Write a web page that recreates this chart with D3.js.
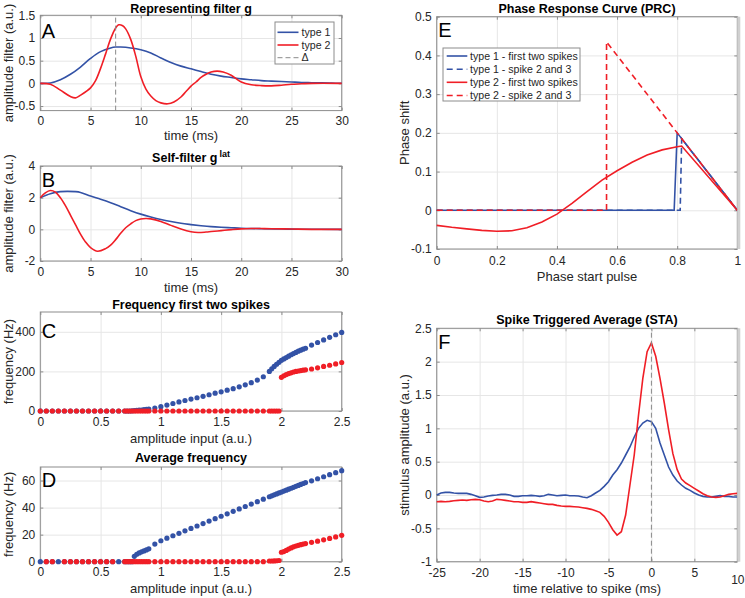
<!DOCTYPE html>
<html><head><meta charset="utf-8">
<script src="https://cdn.jsdelivr.net/npm/d3@7"></script>
<style>
html,body{margin:0;padding:0;background:#fff;}
svg{display:block;font-family:"Liberation Sans",Arial,Helvetica,sans-serif;}
</style></head>
<body>
<svg id="chart" width="745" height="598"></svg>
<script>
// ---------- DATA ----------
// Panel A: representing filter g
const tA1 = [0,1,2,3,4,5,6,7,7.5,8,9,10,11,12,13,14,15,16,17,18,19,20,21,22,23,24,25,26,27,28,29,30];
const gA1 = [0,0.01,0.08,0.2,0.36,0.55,0.7,0.78,0.8,0.8,0.78,0.74,0.67,0.56,0.46,0.38,0.32,0.26,0.2,0.16,0.13,0.1,0.08,0.06,0.05,0.04,0.03,0.02,0.015,0.01,0.005,0.003];
const tA2 = [0,1,2,3,3.5,4,5,5.5,6,6.5,7,7.5,7.8,8.2,8.5,9,9.5,10,10.5,11,11.5,12,12.7,13.3,14,14.5,15,15.5,16,16.5,17,17.6,18.2,19,20,21,22,23,24,25,26,27,30];
const gA2 = [0,-0.02,-0.15,-0.29,-0.32,-0.26,-0.1,0.06,0.33,0.65,0.98,1.22,1.29,1.27,1.2,0.97,0.6,0.15,-0.12,-0.28,-0.38,-0.43,-0.45,-0.41,-0.3,-0.18,-0.06,0.03,0.13,0.2,0.25,0.27,0.25,0.18,0.03,-0.03,-0.05,-0.055,-0.04,-0.02,-0.01,0,0];
const deltaA = 7.5;
// Panel B: self-filter g^lat
const tB1 = [0,1,2,2.7,3.5,4,5,6,7,8,9,10,11,12,13,14,15,16,17,18,19,20,22,24,26,30];
const gB1 = [2.0,2.25,2.38,2.4,2.38,2.33,2.1,1.9,1.68,1.43,1.18,0.96,0.78,0.62,0.49,0.38,0.3,0.23,0.17,0.13,0.1,0.07,0.04,0.02,0.01,0];
const tB2 = [0,0.5,1,1.5,2,2.5,3,3.5,4,4.5,5,5.7,6.5,7,7.5,8,8.5,9,9.5,10,10.5,11,12,13,14,15,15.7,16.5,17,18,19,20,21,22,23,25,27,30];
const gB2 = [2.0,2.3,2.45,2.35,2.0,1.5,0.9,0.3,-0.3,-0.8,-1.15,-1.38,-1.22,-1.0,-0.65,-0.25,0.1,0.35,0.55,0.65,0.68,0.66,0.5,0.25,0.02,-0.15,-0.2,-0.17,-0.14,-0.08,-0.02,0.03,0.05,0.05,0.04,0.02,0,0];
// Panels C, D: amplitude input grid
const amp = [0,0.05,0.1,0.15,0.2,0.25,0.3,0.35,0.4,0.45,0.5,0.55,0.6,0.65,
  0.7,0.72,0.74,0.76,0.78,0.8,0.82,0.84,0.86,0.88,0.9,
  0.95,1,1.05,1.1,1.15,1.2,1.25,1.3,1.35,1.4,1.45,1.5,1.55,1.6,1.65,1.7,1.75,1.8,1.85,
  1.9,1.92,1.94,1.96,1.98,2,2.02,2.04,2.06,2.08,2.1,2.12,2.14,2.16,2.18,2.2,
  2.25,2.3,2.35,2.4,2.45,2.5];
const freqC1 = [0,0,0,0,0,0,0,0,0,0,0,0,0,0,
  0,0,0,1,2,3,4,5,7,8,10,
  15,22,30,38,46,53,60,67,74,82,90,97,105,113,122,132,143,156,173,
  200,213,225,236,246,256,263,270,277,284,290,296,302,307,312,317,
  333,346,359,372,385,397];
const freqC2 = [0,0,0,0,0,0,0,0,0,0,0,0,0,0,
  0,0,0,0,0,0,0,0,0,0,0,
  0,0,0,0,0,0,0,0,0,0,0,0,0,0,0,0,0,0,0,
  0,0,0,0,0,170,178,184,189,193,197,200,202,204,206,208,
  212,218,225,231,238,245];
const freqD1 = [0,0,0,0,0,0,0,0,0,0,0,0,0,0,
  0,0,0,0,4,5.5,6.5,7.3,8,8.7,9.5,
  13,15.5,17.4,19.2,21,22.8,24.6,26.4,28.2,30,31.8,33.6,35.4,37.2,39,40.8,42.6,44.4,46.2,
  48,48.7,49.4,50.1,50.8,51.5,52.2,52.9,53.6,54.3,55,55.7,56.4,57.1,57.8,58.5,
  59.8,61.3,62.8,64.3,65.8,67.3];
const freqD2 = [null,0,0,null,0,0,0,0,0,0,0,0,0,null,
  0,0,0,0,0,0,0,0,0,0,0,
  0,0,0,0,0,0,0,0,0,0,0,0,0,0,0,0,0,0,0,
  0.5,0.5,0.6,0.7,0.9,7,7.5,8.3,9.3,10.2,11,11.6,12.1,12.6,13,13.4,
  14.3,15.2,16.2,17.2,18.3,19.5];
// Panel E: phase response curves
const prcX1a = [0,0.79,0.8,1],   prcY1a = [0,0,0.2,0];
const prcX1b = [0,0.81,0.815,1], prcY1b = [0,0,0.185,0];
const prcX2a = [0,0.05,0.1,0.15,0.2,0.25,0.3,0.35,0.4,0.45,0.5,0.55,0.6,0.65,0.7,0.75,0.8,0.815,1];
const prcY2a = [-0.039,-0.044,-0.048,-0.052,-0.054,-0.053,-0.045,-0.03,-0.01,0.018,0.048,0.078,0.102,0.124,0.143,0.156,0.164,0.166,0];
const prcX2b = [0,0.565,0.565,1], prcY2b = [0,0,0.435,0];
// Panel F: spike triggered average
const tF = [-25,-24.5,-24,-23.5,-23,-22.5,-22,-21.5,-21,-20.5,-20,-19.5,-19,-18.5,-18,-17.5,-17,-16.5,-16,-15.5,-15,-14.5,-14,-13.5,-13,-12.5,-12,-11.5,-11,-10.5,-10,-9.5,-9,-8.5,-8,-7.5,-7,-6.5,-6,-5.5,-5,-4.5,-4,-3.5,-3,-2.5,-2,-1.5,-1,-0.5,0,0.5,1,1.5,2,2.5,3,3.5,4,4.5,5,5.5,6,6.5,7,7.5,8,8.5,9,9.5,10];
const staF1 = [0,0.03,0.04,0.04,0.03,0.025,0.025,0.025,0.01,-0.01,-0.035,-0.03,-0.015,-0.005,0,0.01,0.01,0,-0.02,-0.02,-0.01,-0.01,-0.005,-0.01,-0.02,-0.01,0.01,0,-0.01,-0.005,0,-0.01,-0.01,-0.015,-0.03,-0.04,-0.01,0.03,0.07,0.13,0.2,0.3,0.38,0.48,0.6,0.72,0.87,1.0,1.08,1.12,1.1,1.0,0.78,0.6,0.42,0.3,0.21,0.15,0.1,0.07,0.03,0,-0.02,-0.03,-0.03,-0.02,-0.01,-0.02,-0.02,-0.03,-0.03];
const staF2 = [-0.1,-0.095,-0.1,-0.095,-0.085,-0.08,-0.075,-0.08,-0.07,-0.065,-0.07,-0.09,-0.1,-0.09,-0.065,-0.07,-0.08,-0.09,-0.1,-0.1,-0.11,-0.11,-0.1,-0.11,-0.12,-0.13,-0.14,-0.14,-0.155,-0.165,-0.17,-0.17,-0.175,-0.18,-0.19,-0.2,-0.215,-0.235,-0.26,-0.32,-0.41,-0.52,-0.6,-0.55,-0.3,0.15,0.6,1.2,1.75,2.15,2.28,2.08,1.75,1.38,0.98,0.62,0.38,0.24,0.18,0.14,0.1,0.06,0.02,-0.01,-0.03,-0.035,-0.03,-0.01,0.01,0.02,0.025];
// Tick values
const xtAB = [0,5,10,15,20,25,30];
const ytA = [-0.5,0,0.5,1,1.5];
const ytB = [-2,0,2,4];
const xtCD = [0,0.5,1,1.5,2,2.5];
const ytC = [0,200,400];
const ytD = [0,20,40,60];
const xtE = [0,0.2,0.4,0.6,0.8,1];
const ytE = [-0.1,0,0.1,0.2,0.3,0.4,0.5];
const xtF = [-25,-20,-15,-10,-5,0,5,10];
const ytF = [-1,-0.5,0,0.5,1,1.5,2,2.5];

// ---------- STYLE ----------
const BLUE = "#3352a6", RED = "#f01e26", GRID = "#e6e6e6", BOX = "#8c8c8c", TXT = "#262626";
const tickFS = 12, labFS = 13, titFS = 12.5, legFS = 10.6;
const svg = d3.select("#chart");
svg.append("rect").attr("width",745).attr("height",598).attr("fill","#fff");

function panel(p){
  const x = d3.scaleLinear().domain(p.xd).range([p.l,p.r]);
  const y = d3.scaleLinear().domain(p.yd).range([p.b,p.t]);
  const g = svg.append("g");
  const h = p.b-p.t, w = p.r-p.l;
  // grid
  g.append("g").attr("transform",`translate(0,${p.b})`)
    .call(d3.axisBottom(x).tickValues(p.xt).tickSize(-h).tickFormat(""))
    .call(s=>{s.select(".domain").remove(); s.selectAll("line").attr("stroke",GRID);});
  g.append("g").attr("transform",`translate(${p.l},0)`)
    .call(d3.axisLeft(y).tickValues(p.yt).tickSize(-w).tickFormat(""))
    .call(s=>{s.select(".domain").remove(); s.selectAll("line").attr("stroke",GRID);});
  // box
  g.append("rect").attr("x",p.l).attr("y",p.t).attr("width",w).attr("height",h)
    .attr("fill","none").attr("stroke",BOX).attr("stroke-width",1);
  const fmt = d => String(d);
  const styleAx = s => {
    s.select(".domain").remove();
    s.selectAll("line").attr("stroke",BOX);
    s.selectAll("text").attr("fill",TXT).attr("font-size",tickFS).attr("font-family","Liberation Sans, Arial, sans-serif");
  };
  const xa = g.append("g").attr("transform",`translate(0,${p.b})`)
    .call(d3.axisBottom(x).tickValues(p.xt).tickSizeInner(-3).tickSizeOuter(0).tickPadding(p.xpad||6).tickFormat(fmt)).call(styleAx);
  g.append("g").attr("transform",`translate(0,${p.t})`)
    .call(d3.axisTop(x).tickValues(p.xt).tickSizeInner(-3).tickSizeOuter(0).tickFormat("")).call(styleAx);
  g.append("g").attr("transform",`translate(${p.l},0)`)
    .call(d3.axisLeft(y).tickValues(p.yt).tickSizeInner(-3).tickSizeOuter(0).tickPadding(5).tickFormat(fmt)).call(styleAx);
  g.append("g").attr("transform",`translate(${p.r},0)`)
    .call(d3.axisRight(y).tickValues(p.yt).tickSizeInner(-3).tickSizeOuter(0).tickFormat("")).call(styleAx);
  // title
  if(p.title){
    const tt = svg.append("text").attr("x",(p.l+p.r)/2).attr("y",p.titleY).attr("text-anchor","middle")
      .attr("font-size",titFS).attr("font-weight","bold").attr("fill","#000").text(p.title);
    if(p.sup) tt.append("tspan").attr("dy",-5).attr("dx",2).attr("font-size",9).text(p.sup);
  }
  if(p.xlabel) svg.append("text").attr("x",(p.l+p.r)/2).attr("y",p.xlabY).attr("text-anchor","middle")
      .attr("font-size",labFS).attr("fill",TXT).text(p.xlabel);
  if(p.ylabel) svg.append("text").attr("transform",`translate(${p.ylabX},${(p.t+p.b)/2}) rotate(-90)`)
      .attr("text-anchor","middle").attr("font-size",labFS).attr("fill",TXT).text(p.ylabel);
  if(p.letter) svg.append("text").attr("x",p.l+1.5).attr("y",p.letterY).attr("font-size",20).attr("fill","#000").text(p.letter);
  return {x,y,g,xa};
}

function line(P, xs, ys, color, dash, curve){
  const pts = xs.map((v,i)=>[v,ys[i]]);
  P.g.append("path").datum(pts)
    .attr("d", d3.line().x(d=>P.x(d[0])).y(d=>P.y(d[1])).curve(curve||d3.curveLinear))
    .attr("fill","none").attr("stroke",color).attr("stroke-width",1.6)
    .attr("stroke-dasharray",dash||null);
}
function dots(P, xs, ys, color){
  const pts = xs.map((v,i)=>[v,ys[i]]).filter(d=>d[1]!==null);
  P.g.append("g").selectAll("circle").data(pts).join("circle")
    .attr("cx",d=>P.x(d[0])).attr("cy",d=>P.y(d[1])).attr("r",2.6).attr("fill",color);
}
function vdash(P, xv){
  P.g.append("line").attr("x1",P.x(xv)).attr("x2",P.x(xv))
    .attr("y1",P.y.range()[0]).attr("y2",P.y.range()[1])
    .attr("stroke","#8a8a8a").attr("stroke-width",1).attr("stroke-dasharray","5,3");
}

// ---------- PANEL A ----------
const A = panel({l:40.3,r:341.7,t:15.3,b:110.6,xd:[0,30],yd:[-0.6,1.5],xt:xtAB,yt:ytA,
  title:"Representing filter g",titleY:12.5,xlabel:"time (ms)",xlabY:139.5,ylabel:"amplitude filter (a.u.)",ylabX:13,letter:"A",letterY:37.5});
const smooth = d3.curveCatmullRom.alpha(0.5);
line(A,tA1,gA1,BLUE,null,smooth);
line(A,tA2,gA2,RED,null,smooth);
vdash(A,deltaA);
// legend A
const legA = svg.append("g");
legA.append("rect").attr("x",275).attr("y",22).attr("width",59).attr("height",42).attr("fill","#fff").attr("stroke",BOX);
[["type 1",BLUE,null,32.3],["type 2",RED,null,45],["\u0394","#8a8a8a","5,3",57.7]].forEach(([t,c,d,yy])=>{
  legA.append("line").attr("x1",277.5).attr("x2",298.5).attr("y1",yy).attr("y2",yy).attr("stroke",c)
    .attr("stroke-width",d?1:1.6).attr("stroke-dasharray",d);
  legA.append("text").attr("x",301.5).attr("y",yy).attr("dy","0.35em").attr("font-size",legFS).attr("fill",TXT).text(t);
});

// ---------- PANEL B ----------
const B = panel({l:40.3,r:341.7,t:166,b:261,xd:[0,30],yd:[-2,4],xt:xtAB,yt:ytB,
  title:"Self-filter g",sup:"lat",titleY:161.5,xlabel:"time (ms)",xlabY:291.5,ylabel:"amplitude filter (a.u.)",ylabX:13,letter:"B",letterY:187});
line(B,tB1,gB1,BLUE,null,smooth);
line(B,tB2,gB2,RED,null,smooth);

// ---------- PANEL C ----------
const C = panel({l:40.3,r:341.7,t:312,b:411,xd:[0,2.5],yd:[0,500],xt:xtCD,yt:ytC,xpad:6.5,
  title:"Frequency first two spikes",titleY:308.5,xlabel:"amplitude input (a.u.)",xlabY:442.5,ylabel:"frequency (Hz)",ylabX:13,letter:"C",letterY:338});
dots(C,amp,freqC1,BLUE);
dots(C,amp,freqC2,RED);

// ---------- PANEL D ----------
const D = panel({l:40.3,r:341.7,t:467,b:561.7,xd:[0,2.5],yd:[0,70],xt:xtCD,yt:ytD,
  title:"Average frequency",titleY:462,xlabel:"amplitude input (a.u.)",xlabY:592.5,ylabel:"frequency (Hz)",ylabX:13,letter:"D",letterY:486.7});
dots(D,amp,freqD1,BLUE);
dots(D,amp,freqD2,RED);

// ---------- PANEL E ----------
const E = panel({l:436.7,r:737.3,t:16.7,b:249,xd:[0,1],yd:[-0.1,0.5],xt:xtE,yt:ytE,xpad:7,
  title:"Phase Response Curve (PRC)",titleY:12.5,xlabel:"Phase start pulse",xlabY:281,ylabel:"Phase shift",ylabX:409,letter:"E",letterY:36.7});
line(E,prcX1a,prcY1a,BLUE,null);
line(E,prcX1b,prcY1b,BLUE,"6,4");
line(E,prcX2a,prcY2a,RED,null);
line(E,prcX2b,prcY2b,RED,"6,4");
const legE = svg.append("g");
legE.append("rect").attr("x",443).attr("y",48).attr("width",137).attr("height",53).attr("fill","#fff").attr("stroke",BOX);
[["type 1 - first two spikes",BLUE,null,56],["type 1 - spike 2 and 3",BLUE,"6,4",69.3],
 ["type 2 - first two spikes",RED,null,82.3],["type 2 - spike 2 and 3",RED,"6,4",95.5]].forEach(([t,c,d,yy])=>{
  legE.append("line").attr("x1",446.7).attr("x2",467.3).attr("y1",yy).attr("y2",yy).attr("stroke",c)
    .attr("stroke-width",1.6).attr("stroke-dasharray",d);
  legE.append("text").attr("x",470).attr("y",yy).attr("dy","0.35em").attr("font-size",legFS).attr("fill",TXT).text(t);
});

// ---------- PANEL F ----------
const F = panel({l:436.7,r:737.3,t:328.3,b:561.7,xd:[-25,10],yd:[-1,2.5],xt:xtF,yt:ytF,xpad:7,
  title:"Spike Triggered Average (STA)",titleY:323.5,xlabel:"time relative to spike (ms)",xlabY:592.5,ylabel:"stimulus amplitude (a.u.)",ylabX:409,letter:"F",letterY:349});
line(F,tF,staF1,BLUE,null);
line(F,tF,staF2,RED,null);
vdash(F,0);
F.xa.selectAll(".tick").filter(d=>d===10).select("text").attr("y",14);

// right edge bands on E and F
[E,F].forEach(P=>{
  svg.append("line").attr("x1",P.x.range()[1]+1.5).attr("x2",P.x.range()[1]+1.5)
    .attr("y1",P.y.range()[1]).attr("y2",P.y.range()[0]).attr("stroke","#d0d0d0").attr("stroke-width",3);
});
</script>
</body></html>
